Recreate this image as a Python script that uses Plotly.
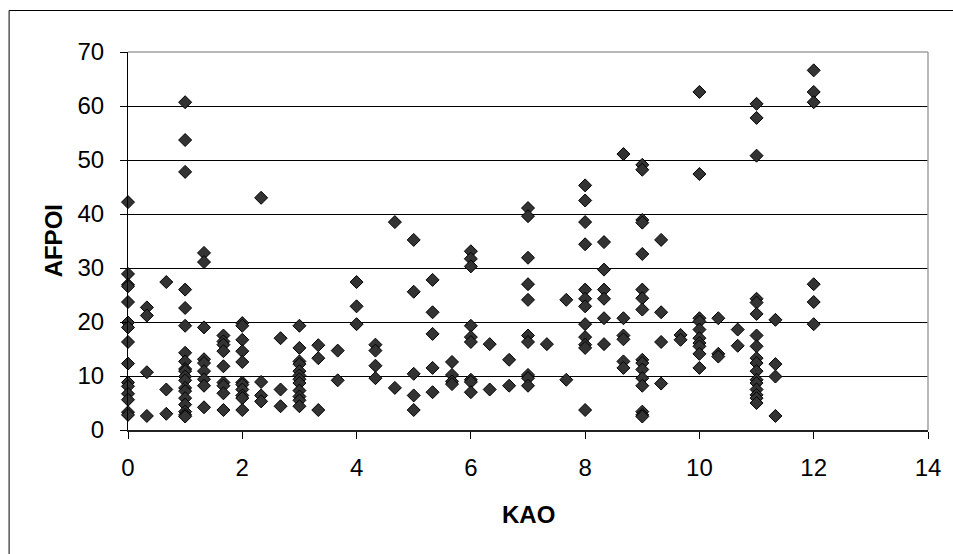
import plotly.graph_objects as go

# KAO (x) values, grouped column by column
kao = (
    [0] * 15
    + [0.33] * 4
    + [0.67] * 3
    + [1] * 19
    + [1.33] * 9
    + [1.67] * 9
    + [2] * 11
    + [2.33] * 4
    + [2.67] * 3
    + [3] * 12
    + [3.33] * 3
    + [3.67] * 2
    + [4] * 3
    + [4.33] * 4
    + [4.67] * 2
    + [5] * 5
    + [5.33] * 5
    + [5.67] * 4
    + [6] * 9
    + [6.33] * 2
    + [6.67] * 2
    + [7] * 10
    + [7.33] * 1
    + [7.67] * 2
    + [8] * 12
    + [8.33] * 6
    + [8.67] * 6
    + [9] * 16
    + [9.33] * 4
    + [9.67] * 2
    + [10] * 10
    + [10.33] * 3
    + [10.67] * 2
    + [11] * 17
    + [11.33] * 4
    + [12] * 6
)

# AFPOI (y) values, same order as kao
afpoi = [
    # 0
    42.2, 28.9, 26.9, 26.6, 23.7, 19.9, 19.0, 16.3, 12.3, 8.8, 8.1, 6.7, 5.6, 3.3, 2.8,
    # 0.33
    22.7, 21.2, 10.7, 2.6,
    # 0.67
    27.4, 7.5, 3.0,
    # 1
    60.7, 53.7, 47.8, 26.0, 22.6, 19.3, 14.3, 12.7, 11.3, 10.9, 9.9, 9.2, 7.8, 7.2, 5.9, 4.7, 3.4, 2.8, 2.5,
    # 1.33
    32.8, 31.1, 19.0, 13.1, 12.4, 10.9, 9.4, 8.2, 4.2,
    # 1.67
    17.5, 16.4, 15.8, 14.6, 11.8, 8.8, 8.2, 6.8, 3.7,
    # 2
    19.8, 19.3, 16.7, 14.6, 12.6, 8.8, 8.4, 7.5, 6.4, 5.9, 3.7,
    # 2.33
    43.0, 8.9, 6.4, 5.3,
    # 2.67
    17.0, 7.5, 4.4,
    # 3
    19.3, 15.2, 12.7, 12.2, 10.9, 10.1, 9.4, 8.7, 7.3, 6.2, 5.5, 4.4,
    # 3.33
    15.7, 13.3, 3.7,
    # 3.67
    14.7, 9.2,
    # 4
    27.4, 22.9, 19.6,
    # 4.33
    15.8, 14.7, 11.9, 9.6,
    # 4.67
    38.5, 7.8,
    # 5
    35.2, 25.6, 10.4, 6.4, 3.7,
    # 5.33
    27.8, 21.8, 17.8, 11.5, 7.0,
    # 5.67
    12.6, 10.2, 9.0, 8.5,
    # 6
    33.1, 31.7, 30.3, 19.3, 17.2, 16.3, 9.3, 8.9, 7.0,
    # 6.33
    15.9, 7.5,
    # 6.67
    13.0, 8.2,
    # 7
    41.1, 39.6, 31.9, 27.0, 24.1, 17.5, 16.3, 10.2, 9.6, 8.2,
    # 7.33
    15.9,
    # 7.67
    24.1, 9.3,
    # 8
    45.3, 42.5, 38.5, 34.4, 26.0, 24.3, 22.9, 19.6, 17.2, 15.8, 15.2, 3.7,
    # 8.33
    34.8, 29.7, 26.0, 24.3, 20.7, 15.9,
    # 8.67
    51.1, 20.7, 17.5, 16.8, 12.7, 11.5,
    # 9
    49.1, 48.2, 38.9, 38.4, 32.6, 26.0, 24.4, 22.3, 13.0, 12.4, 11.2, 9.6, 8.2, 3.4, 2.8, 2.5,
    # 9.33
    35.2, 21.8, 16.3, 8.6,
    # 9.67
    17.6, 16.7,
    # 10
    62.6, 47.4, 20.7, 20.1, 18.6, 17.0, 16.1, 15.5, 14.1, 11.5,
    # 10.33
    20.7, 14.1, 13.6,
    # 10.67
    18.6, 15.6,
    # 11
    60.4, 57.8, 50.8, 24.3, 23.6, 21.5, 17.5, 15.5, 13.3, 12.4, 10.9, 9.3, 8.7, 7.5, 6.5, 5.9, 5.0,
    # 11.33
    20.4, 12.2, 9.9, 2.6,
    # 12
    66.6, 62.6, 60.7, 27.0, 23.7, 19.6,
]

x_ticks = [0, 2, 4, 6, 8, 10, 12, 14]
y_ticks = [0, 10, 20, 30, 40, 50, 60, 70]
x_title = "KAO"
y_title = "AFPOI"

FONT = "Liberation Sans, Arial, sans-serif"
W, H = 953, 554
ML, MR, MT, MB = 128, 21, 52, 124
PW = W - ML - MR
PH = H - MT - MB

fig = go.Figure()
fig.add_trace(
    go.Scatter(
        x=kao,
        y=afpoi,
        mode="markers",
        marker=dict(symbol="diamond", size=10, color="#333333",
                    line=dict(color="#000000", width=1)),
        cliponaxis=False,
        showlegend=False,
        hoverinfo="x+y",
    )
)

fig.update_layout(
    width=W,
    height=H,
    margin=dict(l=ML, r=MR, t=MT, b=MB, pad=0),
    paper_bgcolor="white",
    plot_bgcolor="white",
    font=dict(family=FONT, size=24, color="black"),
    xaxis=dict(
        range=[0, 14],
        tickvals=x_ticks,
        ticktext=[str(v) for v in x_ticks],
        ticks="outside",
        ticklen=7,
        tickwidth=1,
        tickcolor="black",
        showline=True,
        linecolor="#222222",
        linewidth=1.5,
        showgrid=False,
        zeroline=False,
        ticklabelstandoff=8,
        tickfont=dict(family=FONT, size=24),
    ),
    yaxis=dict(
        range=[0, 70],
        tickvals=y_ticks,
        ticktext=[str(v) for v in y_ticks],
        ticks="outside",
        ticklen=7,
        tickwidth=1,
        tickcolor="black",
        showline=True,
        linecolor="black",
        linewidth=1,
        showgrid=True,
        gridcolor="black",
        gridwidth=1,
        zeroline=False,
        ticklabelstandoff=11,
        tickfont=dict(family=FONT, size=24),
    ),
    shapes=[
        # plot-area border: top and right edges in gray
        dict(type="line", xref="paper", yref="paper", x0=0, x1=1, y0=1, y1=1,
             line=dict(color="#a0a0a0", width=1.5), layer="above"),
        dict(type="line", xref="paper", yref="paper", x0=1, x1=1, y0=0, y1=1,
             line=dict(color="#a0a0a0", width=1.5), layer="above"),
        # outer chart border
        dict(type="rect", xref="paper", yref="paper",
             x0=(8.5 - ML) / PW, x1=1.1,
             y0=-0.6, y1=1 + (MT - 10.5) / PH,
             line=dict(color="black", width=1), layer="above"),
    ],
    annotations=[
        dict(text="<b>%s</b>" % x_title, xref="paper", yref="paper",
             x=0.5, y=-(514 - (MT + PH)) / PH, xanchor="center", yanchor="middle",
             showarrow=False, font=dict(family=FONT, size=24)),
        dict(text="<b>%s</b>" % y_title, xref="paper", yref="paper",
             x=-(ML - 53) / PW, y=0.5, xanchor="center", yanchor="middle",
             textangle=-90, showarrow=False, font=dict(family=FONT, size=24)),
    ],
)

fig.write_html("out.html")
